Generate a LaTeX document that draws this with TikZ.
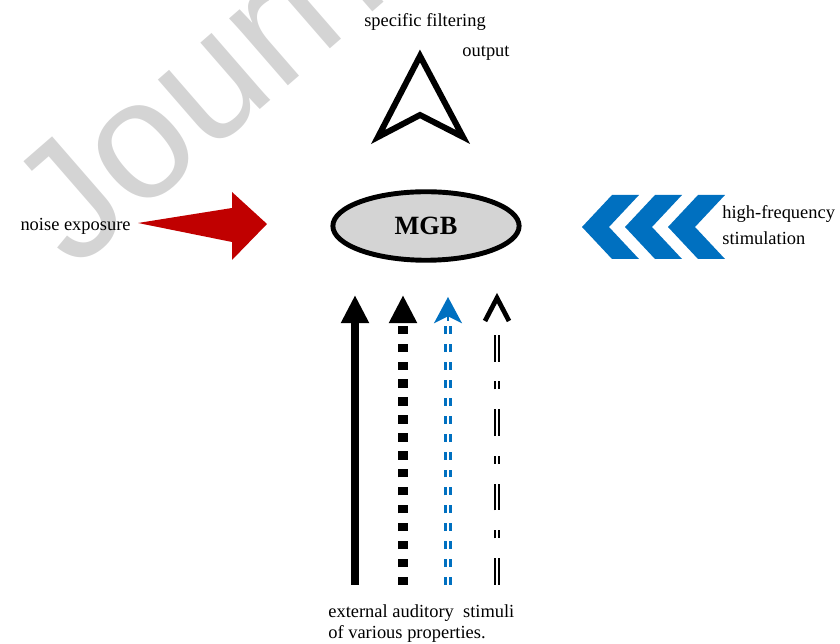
\documentclass[tikz,border=0pt]{standalone}
\usepackage{fontspec}
\setmainfont{Liberation Serif}
\newfontfamily\markfont{Liberation Sans}
\usepackage{tikz}
\usetikzlibrary{arrows.meta,calc,shapes.geometric}

\definecolor{noisered}{RGB}{192,0,0}
\definecolor{hfblue}{RGB}{0,112,192}
\definecolor{mgbgray}{RGB}{212,212,212}

\begin{document}
\begin{tikzpicture}[x=0.02cm,y=-0.02cm,
    lbl/.style={font=\fontsize{10.5}{12}\selectfont,inner sep=0pt},
    stim/.style={line width=4.5pt},
    tri/.style={-{Triangle[width=15pt,length=16pt]}}]
    \useasboundingbox (0,0) rectangle (840,644);

    % watermark
    \begin{scope}
    \clip (0,0) rectangle (840,644);
    \node[rotate=41,anchor=base west,inner sep=0pt,text=black!17,
          font=\markfont\fontsize{96}{96}\selectfont] (mark) at (74,272) {Journal Pre-proof};
    \end{scope}

    % MGB
    \node[ellipse,draw,line width=2.8pt,fill=mgbgray,
          minimum width=106pt,minimum height=39pt,inner sep=0pt,
          font=\bfseries\fontsize{15}{16}\selectfont] (mgb) at (426,226) {MGB};

    % output
    \coordinate (out) at (420,56);
    \draw[line width=3.4pt,fill=white] (out) -- ($(out)+(43,81)$) -- ($(out)+(0,59)$)
        -- ($(out)+(-42,81)$) -- cycle;
    \node[lbl] (filt) at (425,22) {specific filtering};
    \node[lbl] (outl) at (486,53) {output};

    % noise
    \node[lbl,anchor=east] (noise) at (131,226) {noise exposure};
    \coordinate (n0) at (138,223);
    \fill[noisered] (n0) -- (232,208) -- (232,192) -- (267,224) -- (232,260)
        -- (232,242) -- cycle;

    % high-frequency
    \foreach \k in {0,1,2} {
        \coordinate (c\k) at (582+43*\k,227);
        \fill[hfblue] (c\k) -- ++(30,-32) -- ++(27,0) -- ++(-30,32) -- ++(30,32)
            -- ++(-27,0) -- cycle;
    }
    \node[lbl,font=\fontsize{10.5}{15}\selectfont,anchor=north west,align=left] (hf)
        at (722,205) {high-frequency\\stimulation};

    % stimuli
    \coordinate (s1) at (355,585); \coordinate (t1) at (355,295);
    \coordinate (s2) at (403,585); \coordinate (t2) at (403,295);
    \coordinate (s3) at (448,585); \coordinate (t3) at (448,297);
    \coordinate (s4) at (497,585); \coordinate (t4) at (497,298);
    \draw[stim,tri] (s1) -- (t1);
    \draw[line width=5.5pt,dash pattern=on 4.8pt off 5.4pt,tri] (s2) -- (t2);
    \draw[hfblue,line width=1.2pt,double=white,double distance=1.6pt,
          dash pattern=on 4.5pt off 5.7pt] (s3) -- ($(t3)+(0,21)$);
    \draw[hfblue,line width=1pt,-{Stealth[width=16pt,length=15pt,inset=4pt]}]
        ($(t3)+(0,24)$) -- (t3);
    \draw[line width=1.1pt,double=white,double distance=1.7pt,
          dash pattern=on 15.3pt off 11.3pt on 4.5pt off 11.3pt] (s4) -- ($(t4)+(0,29)$);
    \draw[line width=2.7pt] ($(t4)+(-12,23)$) -- (t4) -- ($(t4)+(12,23)$);
    \node[lbl,anchor=north west,align=left] (ext) at (328,604)
        {external auditory\ \ stimuli\\of various properties.};

\end{tikzpicture}
\end{document}
